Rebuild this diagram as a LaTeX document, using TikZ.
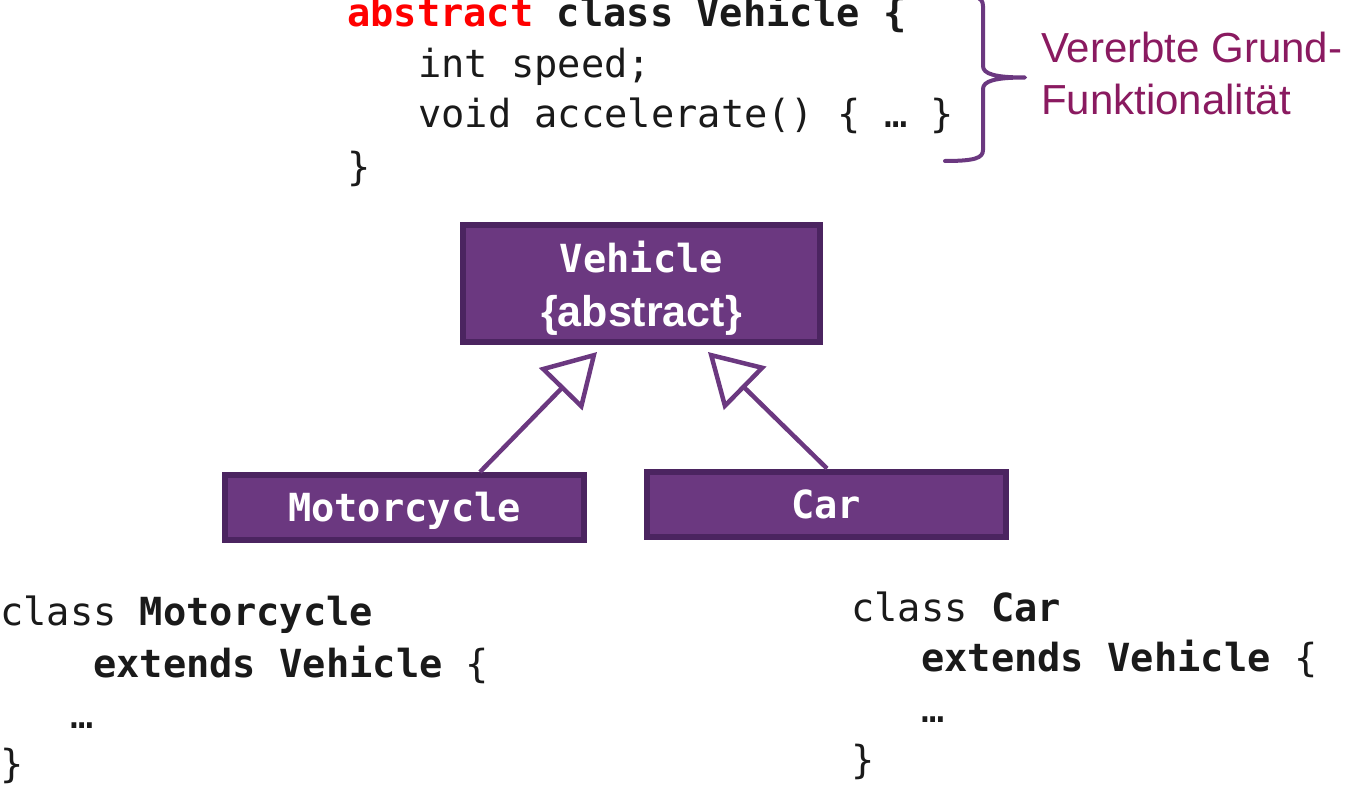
\documentclass[tikz,border=0pt]{standalone}
\usepackage{fontspec}
\setmainfont{Liberation Sans}
\setsansfont{Liberation Sans}
\setmonofont{DejaVu Sans Mono}
\usetikzlibrary{arrows.meta,calc}
\definecolor{boxfill}{HTML}{6B3880}
\definecolor{boxline}{HTML}{4B2460}
\definecolor{umlline}{HTML}{6B3880}
\definecolor{notecol}{HTML}{8A1A60}
\definecolor{codecol}{HTML}{1A1A1A}
\definecolor{kwred}{HTML}{FF0000}
\begin{document}
\begin{tikzpicture}[x=1pt,y=-1pt,
  codeline/.style={anchor=base west, inner sep=0pt, text=codecol,
    font=\ttfamily\fontsize{38.7}{46}\selectfont},
  classbox/.style={draw=boxline, fill=boxfill, line width=6pt, inner sep=0pt,
    minimum width=359pt, minimum height=65pt, text=white,
    font=\ttfamily\bfseries\fontsize{38.7}{46}\selectfont,
    text height=28.5pt, text depth=0pt},
  boxname/.style={inner sep=0pt, anchor=base, text=white,
    font=\ttfamily\bfseries\fontsize{38.7}{46}\selectfont},
  boxabs/.style={inner sep=0pt, anchor=base, text=white,
    font=\sffamily\bfseries\fontsize{43}{50}\selectfont},
  notetext/.style={inner sep=0pt, anchor=base west, text=notecol,
    font=\sffamily\fontsize{42}{50}\selectfont},
  inherit/.style={draw=umlline, line width=4.5pt,
    -{Triangle[open, fill=white, length=52pt, width=60pt]}},
  bracestyle/.style={draw=umlline, line width=4pt, line join=round, line cap=round}
]
\useasboundingbox (0,0) rectangle (1351,789);

% top code
\node[codeline] (t1) at (347,27) {\bfseries\textcolor{kwred}{abstract} class Vehicle \{};
\node[codeline] (t2) at (418,78) {int speed;};
\node[codeline] (t3) at (418,128) {void accelerate() \{ … \}};
\node[codeline] (t4) at (347,180) {\}};

% brace and note
\draw[bracestyle] (945,-6) .. controls (975,-6) and (983,-3) .. (983,6)
  -- (983,66) .. controls (983,74) and (995,77.5) .. (1025,77.5)
  .. controls (995,77.5) and (983,81) .. (983,89)
  -- (983,150) .. controls (983,158) and (975,161) .. (945,161);
\node[notetext] (n1) at (1041,63) {Vererbte Grund-};
\node[notetext] (n2) at (1041,114) {Funktionalität};

% class boxes
\node[draw=boxline, fill=boxfill, line width=6pt, inner sep=0pt,
  minimum width=357pt, minimum height=117pt] (veh) at (641.5,283.5) {};
\node[boxname] (vehname) at (641.5,272) {Vehicle};
\node[boxabs] (vehabs) at (641.5,326) {\{abstract\}};

\node[classbox] (mc) at (404.5,507.5) {Motorcycle};
\node[classbox] (car) at (826,504) {Car};

% inheritance arrows
\coordinate (tipL) at (597,352);
\coordinate (tipR) at (708,352);
\draw[inherit] ($(mc.north)+(75.5,0)$) -- (tipL);
\draw[inherit] ($(car.north)+(1,0)$) -- (tipR);

% bottom left code
\node[codeline] (m1) at (0,625) {class \textbf{Motorcycle}};
\node[codeline] (m2) at (93,677) {\textbf{extends Vehicle} \{};
\node[codeline] (m3) at (70,728) {…};
\node[codeline] (m4) at (0,777) {\}};

% bottom right code
\node[codeline] (c1) at (851,621) {class \textbf{Car}};
\node[codeline] (c2) at (921,671) {\textbf{extends Vehicle} \{};
\node[codeline] (c3) at (921,722) {…};
\node[codeline] (c4) at (851,773) {\}};
\end{tikzpicture}
\end{document}
